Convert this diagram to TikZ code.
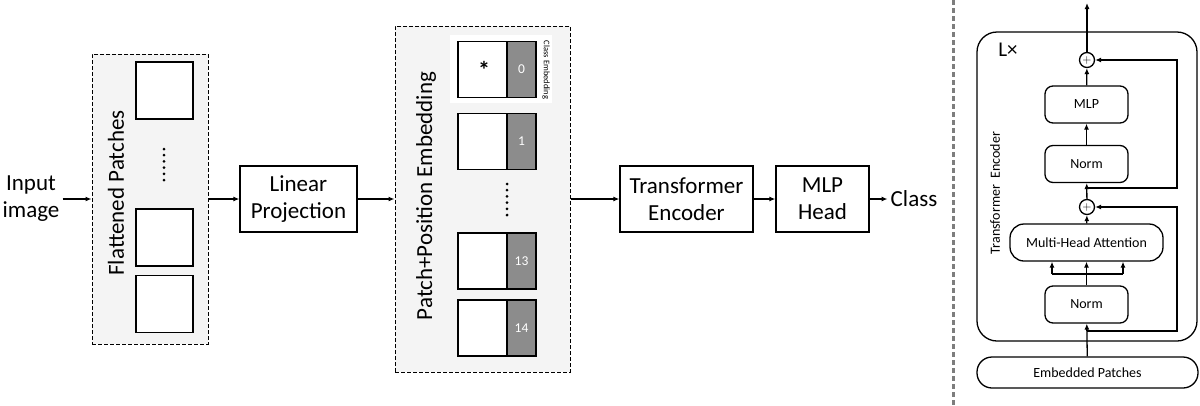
\documentclass[tikz,border=0pt]{standalone}
\usepackage{fontspec}
\setmainfont{Carlito}
\usetikzlibrary{arrows.meta,positioning}

\definecolor{framegray}{RGB}{244,244,244}
\definecolor{posgray}{RGB}{140,140,140}
\definecolor{sepgray}{RGB}{125,125,125}

\tikzset{
  flow/.style={-{Latex[length=6pt,width=5pt]}, line width=1.3pt},
  link/.style={line width=1.3pt},
  bigtext/.style={font=\fontsize{23}{27}\selectfont},
  blockbox/.style={draw, line width=1.3pt, align=center, inner sep=0pt, bigtext},
  dashframe/.style={draw, line width=1pt, dash pattern=on 4pt off 2pt, fill=framegray, inner sep=0pt},
  patchsq/.style={draw, line width=1.3pt, fill=white, minimum size=57pt, inner sep=0pt},
  tokbox/.style={draw, line width=1.3pt, fill=white, minimum width=49pt, minimum height=56pt, inner sep=0pt, outer sep=0pt},
  posbox/.style={draw, line width=1.3pt, fill=posgray, text=white, minimum width=29pt, minimum height=56pt, inner sep=0pt, outer sep=0pt, font=\fontsize{13.5}{15}\selectfont},
  encbox/.style={draw, rounded corners=8pt, line width=1.3pt, minimum width=83pt, minimum height=37pt, inner sep=0pt, font=\fontsize{14}{16}\selectfont},
  addnode/.style={draw, circle, line width=1.3pt, minimum size=15pt, inner sep=0pt, font=\fontsize{13}{13}\selectfont},
}

\begin{document}
\begin{tikzpicture}[x=1pt, y=-1pt]
\useasboundingbox (0,0) rectangle (1200,405);

% left pipeline
\node [bigtext, align=center, inner sep=3pt] (input) at (31,199) {Input\\image};
\node [dashframe, minimum width=116pt, minimum height=290pt] (flat) at (150,199) {};
\node [rotate=90, bigtext] (flatlbl) at (116,193) {Flattened Patches};
\node [patchsq] (sq1) at (164.5,90.5) {};
\node [patchsq] (sq2) at (164.5,237.5) {};
\node [patchsq] (sq3) at (164.5,304) {};
\foreach \i in {0,...,5}
  \fill (164,149+6.2*\i) circle (1.5pt);

\node [blockbox, minimum width=117pt, minimum height=66pt] (lin) at (298.5,199) {Linear\\Projection};

\node [dashframe, minimum width=175pt, minimum height=346pt] (pe) at (482.5,199) {};
\node [rotate=90, bigtext] (pelbl) at (426,196) {Patch+Position Embedding};
\node [fill=white, minimum width=102pt, minimum height=68pt, inner sep=0pt] (clsbg) at (501,69) {};
\node [tokbox] (tok0) at (482.5,69.5) {};
\node [posbox, right=0pt of tok0] (pos0) {0};
\node [font=\fontsize{24}{24}\bfseries] (star) at (484,70) {*};
\node [rotate=-90, font=\fontsize{8.5}{9}\selectfont, inner sep=0pt] (clslbl) at (546,70) {Class Embedding};
\node [tokbox] (tok1) at (482.5,141.5) {};
\node [posbox, right=0pt of tok1] (pos1) {1};
\foreach \i in {0,...,5}
  \fill (507,184+6.2*\i) circle (1.5pt);
\node [tokbox] (tok13) at (482.5,261) {};
\node [posbox, right=0pt of tok13] (pos13) {13};
\node [tokbox] (tok14) at (482.5,328) {};
\node [posbox, right=0pt of tok14] (pos14) {14};

\node [blockbox, minimum width=133pt, minimum height=66pt] (te) at (686.5,199) {Transformer\\Encoder};
\node [blockbox, minimum width=93pt, minimum height=66pt] (mlph) at (822.5,199) {MLP\\Head};
\node [bigtext, inner sep=3pt] (cls) at (914,199) {Class};

\draw [flow] (input.east) -- (input.east -| flat.west);
\draw [flow] (flat.east |- lin) -- (lin);
\draw [flow] (lin) -- (lin -| pe.west);
\draw [flow] (pe.east |- te) -- (te);
\draw [flow] (te) -- (mlph);
\draw [flow] (mlph) -- (cls);

% separator
\draw [sepgray, line width=3pt, dash pattern=on 5pt off 3pt] (953,0) -- (953,405);

% encoder detail
\node [draw, line width=1.3pt, rounded corners=20pt, minimum width=220pt, minimum height=309pt] (encblk) at (1087,186.5) {};
\node [font=\fontsize{21}{21}\selectfont, inner sep=0pt] (lx) at (1008,50) {L×};
\node [rotate=90, font=\fontsize{14}{16}\selectfont] (enclbl) at (995,193) {Transformer\ \ Encoder};
\node [draw, line width=1.3pt, rounded corners=15pt, minimum width=221pt, minimum height=31pt, inner sep=0pt, font=\fontsize{14}{16}\selectfont] (emb) at (1087.5,372.5) {Embedded Patches};
\node [encbox] (norm1) at (1086.5,304.5) {Norm};
\node [encbox, rounded corners=14pt, minimum width=153pt] (mha) at (1086.5,242.5) {Multi-Head Attention};
\node [addnode] (add1) at (1087,207) {$+$};
\node [encbox] (norm2) at (1086.5,164) {Norm};
\node [encbox] (mlp) at (1086.5,104.5) {MLP};
\node [addnode] (add2) at (1087,60) {$+$};
\coordinate (out) at (1087,3);
\coordinate (sk1) at (1087,331);
\coordinate (sk2) at (1087,188);
\coordinate (fkl) at (1052,274);
\coordinate (fkr) at (1123,274);

\draw [flow] (emb) -- (norm1);
\draw [flow] (norm1) -- (mha);
\draw [link] (fkl) -- (fkr);
\draw [flow] (fkl) -- (fkl |- mha.south);
\draw [flow] (fkr) -- (fkr |- mha.south);
\draw [flow] (mha) -- (add1);
\draw [flow] (add1) -- (norm2);
\draw [flow] (norm2) -- (mlp);
\draw [flow] (mlp) -- (add2);
\draw [flow] (add2) -- (out);
\draw [flow] (sk1) -- ++(90,0) |- (add1);
\draw [flow] (sk2) -- ++(90,0) |- (add2);
\end{tikzpicture}
\end{document}
